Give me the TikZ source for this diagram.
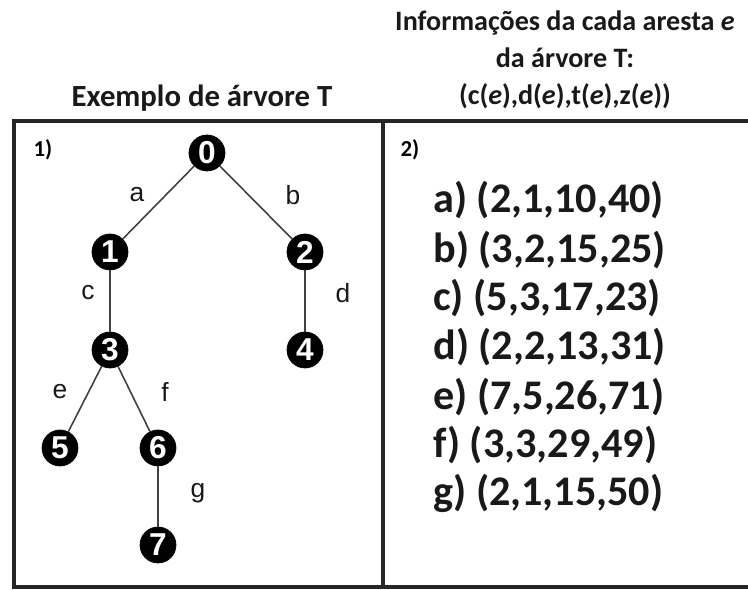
\documentclass[tikz,border=0pt]{standalone}
\usepackage{fontspec}
\setmainfont{Carlito}
\newfontfamily\arialfont{Liberation Sans}
\tikzset{
 vrtx/.style={shape=circle,draw=black,fill=black,minimum size=7.2mm,inner sep=0pt,text=white,font=\arialfont\bfseries\fontsize{18}{18}\selectfont},
 edgelbl/.style={font=\arialfont\fontsize{15}{15}\selectfont,text=black!90},
 treeedge/.style={draw=black!75,line width=0.9pt},
 frame/.style={draw=black!85,line width=2.4pt},
 infoline/.style={anchor=west,inner sep=0pt,text=black!90,font=\bfseries\fontsize{24}{24}\selectfont}
}
\begin{document}
\begin{tikzpicture}[x=0.2mm,y=-0.2mm]
 \useasboundingbox (0,0) rectangle (748,590);
 % table frame
 \draw[frame] (14,121) rectangle (770,587);
 \draw[frame] (383,121) -- (383,587);
 % headings
 \node (hdr tree) at (202,98) [text=black!90,font=\bfseries\fontsize{17.5}{21}\selectfont] {Exemplo de árvore T};
 \node (hdr info) at (565,60) [align=center,text=black!90,font=\bfseries\fontsize{16}{21}\selectfont] {Informações da cada aresta \textit{e}\\da árvore T:\\(c(\textit{e}),d(\textit{e}),t(\textit{e}),z(\textit{e}))};
 \node (tag 1) at (43,150) [font=\bfseries\fontsize{13}{13}\selectfont] {1)};
 \node (tag 2) at (410,150) [font=\bfseries\fontsize{13}{13}\selectfont] {2)};
 % tree
 \node (vrtx 0) at (207,153) [vrtx] {0};
 \node (vrtx 1) at (110,252) [vrtx] {1};
 \node (vrtx 2) at (305,252) [vrtx] {2};
 \node (vrtx 3) at (110,350) [vrtx] {3};
 \node (vrtx 4) at (305,350) [vrtx] {4};
 \node (vrtx 5) at (60,448) [vrtx] {5};
 \node (vrtx 6) at (158,448) [vrtx] {6};
 \node (vrtx 7) at (158,545) [vrtx] {7};
 \draw[treeedge] (vrtx 0) -- (vrtx 1);
 \draw[treeedge] (vrtx 0) -- (vrtx 2);
 \draw[treeedge] (vrtx 1) -- (vrtx 3);
 \draw[treeedge] (vrtx 2) -- (vrtx 4);
 \draw[treeedge] (vrtx 3) -- (vrtx 5);
 \draw[treeedge] (vrtx 3) -- (vrtx 6);
 \draw[treeedge] (vrtx 6) -- (vrtx 7);
 \node (lbl a) at (137,195) [edgelbl] {a};
 \node (lbl b) at (293,195) [edgelbl] {b};
 \node (lbl c) at (88,293) [edgelbl] {c};
 \node (lbl d) at (343,293) [edgelbl] {d};
 \node (lbl e) at (60,392) [edgelbl] {e};
 \node (lbl f) at (165,392) [edgelbl] {f};
 \node (lbl g) at (198,493) [edgelbl] {g};
 % edge data
 \node (info a) at (433,200) [infoline] {a) (2,1,10,40)};
 \node (info b) at (433,250) [infoline] {b) (3,2,15,25)};
 \node (info c) at (433,298) [infoline] {c) (5,3,17,23)};
 \node (info d) at (433,347) [infoline] {d) (2,2,13,31)};
 \node (info e) at (433,397) [infoline] {e) (7,5,26,71)};
 \node (info f) at (433,445) [infoline] {f) (3,3,29,49)};
 \node (info g) at (433,493) [infoline] {g) (2,1,15,50)};
\end{tikzpicture}
\end{document}
